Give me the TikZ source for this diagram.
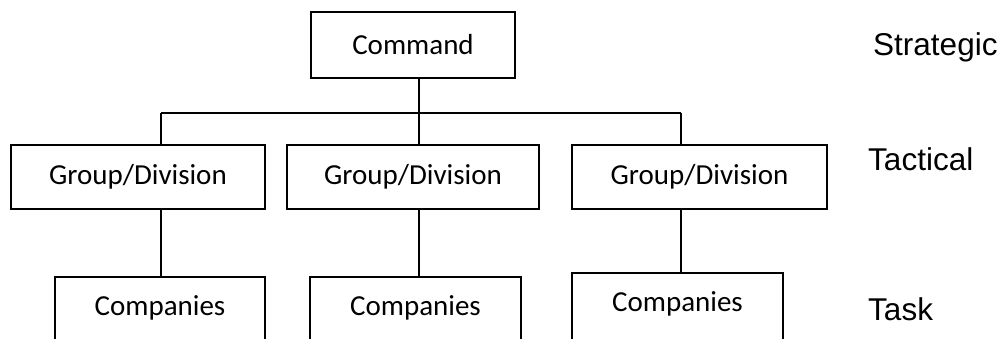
\documentclass[tikz,border=0pt]{standalone}
\usepackage{fontspec}
\setmainfont{Carlito}
\newfontfamily\arialf{Liberation Sans}
\begin{document}
\begin{tikzpicture}[x=1pt,y=-1pt,
  boxstyle/.style={draw,line width=1.8pt,inner sep=0pt,font=\fontsize{29}{34}\selectfont},
  groupbox/.style={boxstyle,minimum width=254pt,minimum height=64pt},
  compbox/.style={boxstyle,minimum width=211pt,text height=20pt,text depth=60pt,inner ysep=19pt,anchor=north},
  levellabel/.style={font=\arialf\fontsize{31.5}{36}\selectfont,anchor=base west,inner sep=0pt},
  link/.style={line width=1.8pt}]
\clip (0,0) rectangle (1003,339);
\node[boxstyle,minimum width=204pt,minimum height=66pt] (cmd) at (413,45) {Command};
\node[groupbox] (g1) at (138,177) {Group/Division};
\node[groupbox,minimum width=252pt] (g2) at (413,177) {Group/Division};
\node[groupbox,minimum width=255pt] (g3) at (699.5,177) {Group/Division};
\node[compbox,minimum width=210pt] (c1) at (160,276) {Companies};
\node[compbox] (c2) at (415.5,276) {Companies};
\node[compbox] (c3) at (677.5,272) {Companies};
\coordinate (b1) at (161,113);
\coordinate (b2) at (419,113);
\coordinate (b3) at (681,113);
\draw[link] (cmd.south -| b2) -- (b2);
\draw[link] (b1) -- (b3);
\draw[link] (b1) -- (g1.north -| b1);
\draw[link] (b2) -- (g2.north -| b2);
\draw[link] (b3) -- (g3.north -| b3);
\draw[link] (g1.south -| b1) -- (c1.north -| b1);
\draw[link] (g2.south -| b2) -- (c2.north -| b2);
\draw[link] (g3.south -| b3) -- (c3.north -| b3);
\node[levellabel] (l1) at (873,55.5) {Strategic};
\node[levellabel] (l2) at (868,170.5) {Tactical};
\node[levellabel] (l3) at (868,320) {Task};
\end{tikzpicture}
\end{document}
